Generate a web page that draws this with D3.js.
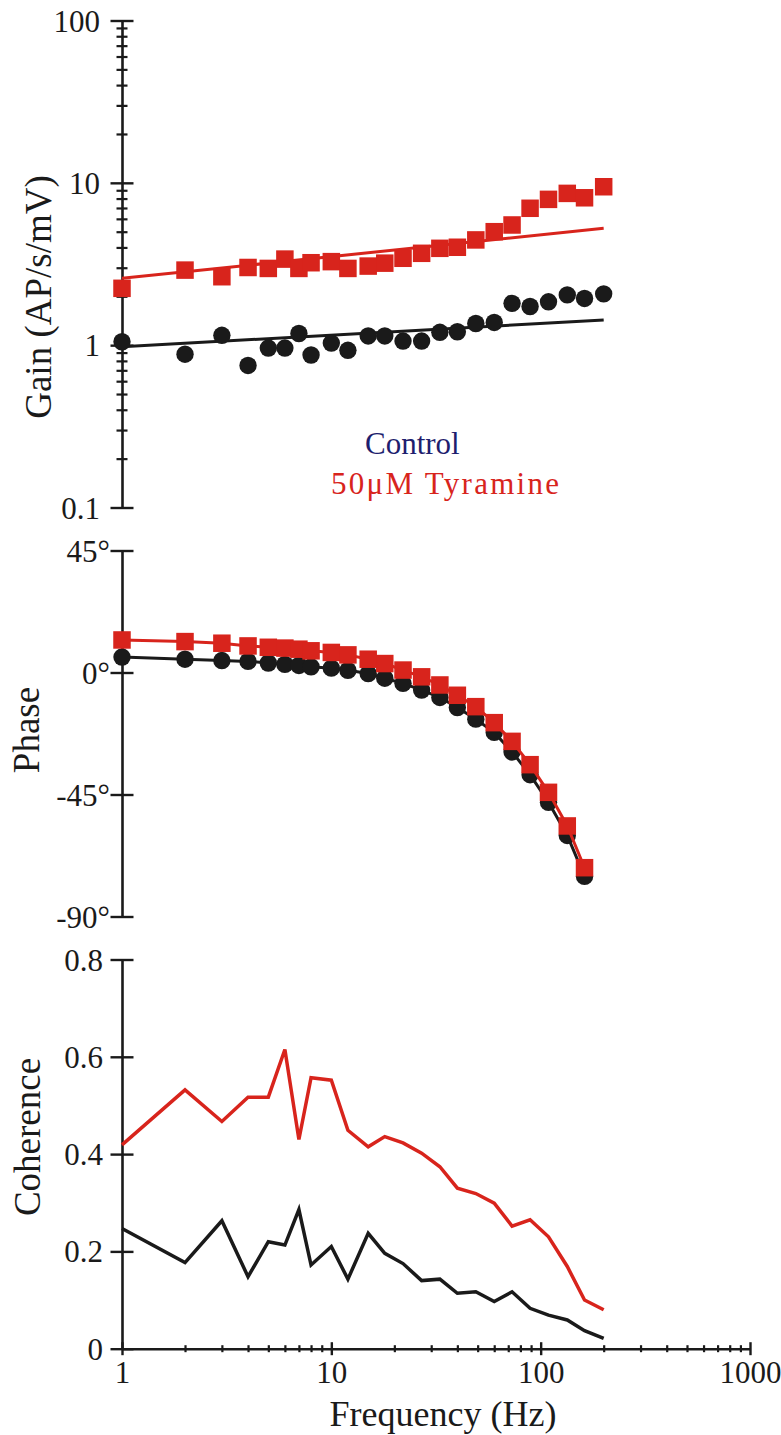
<!DOCTYPE html>
<html>
<head>
<meta charset="utf-8">
<script src="https://cdn.jsdelivr.net/npm/d3@7"></script>
<style>
  html, body { margin: 0; padding: 0; background: #ffffff; }
  svg { display: block; }
  text { font-family: "Liberation Serif", "Times New Roman", serif; }
</style>
</head>
<body>
<svg id="chart" width="781" height="1435"></svg>
<script>
// ---------------- data ----------------
const freqs = [1, 2, 3, 4, 5, 6, 7, 8, 10, 12, 15, 18, 22, 27, 33, 40, 49, 60, 73, 89, 109, 134, 162, 200];

const gainControl   = [1.05, 0.88, 1.15, 0.75, 0.96, 0.96, 1.18, 0.87, 1.03, 0.93, 1.14, 1.14, 1.06, 1.06, 1.20, 1.21, 1.36, 1.38, 1.81, 1.73, 1.85, 2.04, 1.94, 2.07];
const gainTyramine  = [2.24, 2.90, 2.64, 3.01, 2.97, 3.39, 2.97, 3.22, 3.27, 2.97, 3.07, 3.20, 3.43, 3.68, 3.95, 4.01, 4.45, 5.00, 5.50, 6.97, 7.91, 8.61, 8.09, 9.46];
const fitFreqs      = [1, 200];
const fitControl    = [0.977, 1.43];
const fitTyramine   = [2.58, 5.25];

const phaseFreqs    = [1, 2, 3, 4, 5, 6, 7, 8, 10, 12, 15, 18, 22, 27, 33, 40, 49, 60, 73, 89, 109, 134, 162];
const phaseControl  = [5.7, 4.9, 4.4, 4.1, 3.5, 3.0, 2.6, 2.1, 1.6, 0.8, -0.4, -2.1, -4.0, -6.5, -9.2, -12.9, -17.2, -22.1, -29.3, -37.7, -47.9, -60.1, -75.2];
const phaseTyramine = [12.0, 11.4, 10.8, 9.8, 9.3, 9.0, 8.6, 8.0, 7.4, 6.5, 4.9, 3.3, 0.9, -1.6, -4.6, -8.4, -12.6, -18.5, -25.4, -34.0, -44.2, -56.6, -72.0];

const cohControl    = [0.247, 0.177, 0.263, 0.148, 0.220, 0.213, 0.286, 0.172, 0.210, 0.143, 0.237, 0.196, 0.175, 0.140, 0.143, 0.114, 0.117, 0.097, 0.117, 0.083, 0.069, 0.059, 0.037, 0.021];
const cohTyramine   = [0.419, 0.532, 0.467, 0.517, 0.517, 0.615, 0.430, 0.557, 0.552, 0.449, 0.415, 0.436, 0.423, 0.402, 0.374, 0.330, 0.319, 0.299, 0.252, 0.265, 0.230, 0.169, 0.100, 0.080];

const gainTicks   = [0.1, 1, 10, 100];
const gainMinor   = [0.2,0.3,0.4,0.5,0.6,0.7,0.8,0.9, 2,3,4,5,6,7,8,9, 20,30,40,50,60,70,80,90];
const phaseTicks  = [45, 0, -45, -90];
const cohTicks    = [0, 0.2, 0.4, 0.6, 0.8];
const freqTicks   = [1, 10, 100, 1000];
const freqMinor   = [2,3,4,5,6,7,8,9, 20,30,40,50,60,70,80,90, 200,300,400,500,600,700,800,900];

const legendLabels = ["Control", "50\u03BCM Tyramine"];

// ---------------- styles ----------------
const RED = "#d8241c", BLACK = "#1a1a1a", NAVY = "#1e1e6e";

const svg = d3.select("#chart");

// scales
const x = d3.scaleLog().domain([1, 1000]).range([122, 750]);
const yGain = d3.scaleLog().domain([0.1, 100]).range([507.5, 20.5]);
const yPhase = d3.scaleLinear().domain([-90, 45]).range([916.5, 550.5]);
const yCoh = d3.scaleLinear().domain([0, 0.8]).range([1348.7, 959.5]);
const AX = 122;

function leftAxis(y, ticks, fmt, minor, labelX) {
  const g = svg.append("g").attr("transform", `translate(${AX},0)`);
  g.call(d3.axisLeft(y).tickValues(ticks).tickSizeOuter(0).tickSize(0).tickFormat(fmt));
  g.select(".domain").attr("stroke", BLACK).attr("stroke-width", 2.6);
  g.selectAll(".tick line").attr("x1", -11.5).attr("x2", 11.5).attr("stroke", BLACK).attr("stroke-width", 2.4);
  g.selectAll(".tick text").attr("x", labelX).attr("dy", "0.34em")
    .attr("font-size", 31).attr("font-family", "Liberation Serif").attr("fill", BLACK);
  if (minor) {
    const m = svg.append("g").attr("transform", `translate(${AX},0)`);
    m.call(d3.axisLeft(y).tickValues(minor).tickSize(0).tickFormat(""));
    m.select(".domain").remove();
    m.selectAll(".tick line").attr("x1", -5.5).attr("x2", 5.5).attr("stroke", BLACK).attr("stroke-width", 2.2);
  }
  return g;
}

// ---------------- Gain panel ----------------
leftAxis(yGain, gainTicks, d => (d < 1 ? d3.format(".1f")(d) : d3.format("d")(d)), gainMinor, -22);

const lineGain = (vals, fs) => d3.line().x((d, i) => x(fs[i])).y(d => yGain(d))(vals);

svg.append("path").attr("d", lineGain(fitControl, fitFreqs))
  .attr("fill", "none").attr("stroke", BLACK).attr("stroke-width", 3);
svg.append("g").selectAll("circle").data(gainControl).join("circle")
  .attr("cx", (d, i) => x(freqs[i])).attr("cy", d => yGain(d)).attr("r", 8.7).attr("fill", BLACK);

svg.append("path").attr("d", lineGain(fitTyramine, fitFreqs))
  .attr("fill", "none").attr("stroke", RED).attr("stroke-width", 3);
const SQ = 17.5;
svg.append("g").selectAll("rect").data(gainTyramine).join("rect")
  .attr("x", (d, i) => x(freqs[i]) - SQ / 2).attr("y", d => yGain(d) - SQ / 2)
  .attr("width", SQ).attr("height", SQ).attr("fill", RED);

svg.append("text").attr("transform", "translate(51,297) rotate(-90)")
  .attr("text-anchor", "middle").attr("font-size", 37).attr("fill", BLACK)
  .text("Gain (AP/s/mV)");

// legend
svg.append("text").attr("x", 365).attr("y", 454).attr("font-size", 31).attr("fill", NAVY).text(legendLabels[0]);
svg.append("text").attr("x", 331).attr("y", 494).attr("font-size", 31).attr("fill", RED)
  .attr("textLength", 228).attr("lengthAdjust", "spacing").text(legendLabels[1]);

// ---------------- Phase panel ----------------
leftAxis(yPhase, phaseTicks, d => d + "\u00B0", null, -12);

const linePhase = (vals) => d3.line().x((d, i) => x(phaseFreqs[i])).y(d => yPhase(d))(vals);
svg.append("path").attr("d", linePhase(phaseControl))
  .attr("fill", "none").attr("stroke", BLACK).attr("stroke-width", 3);
svg.append("g").selectAll("circle").data(phaseControl).join("circle")
  .attr("cx", (d, i) => x(phaseFreqs[i])).attr("cy", d => yPhase(d)).attr("r", 8.7).attr("fill", BLACK);
svg.append("path").attr("d", linePhase(phaseTyramine))
  .attr("fill", "none").attr("stroke", RED).attr("stroke-width", 3);
svg.append("g").selectAll("rect").data(phaseTyramine).join("rect")
  .attr("x", (d, i) => x(phaseFreqs[i]) - SQ / 2).attr("y", d => yPhase(d) - SQ / 2)
  .attr("width", SQ).attr("height", SQ).attr("fill", RED);

svg.append("text").attr("transform", "translate(39,730) rotate(-90)")
  .attr("text-anchor", "middle").attr("font-size", 37).attr("fill", BLACK)
  .text("Phase");

// ---------------- Coherence panel ----------------
leftAxis(yCoh, cohTicks, d => (d === 0 ? "0" : d3.format(".1f")(d)), null, -19);

const xg = svg.append("g").attr("transform", `translate(0,${yCoh(0)})`);
xg.call(d3.axisBottom(x).tickValues(freqTicks).tickSizeOuter(0).tickSize(0).tickFormat(d3.format("d")));
xg.select(".domain").attr("stroke", BLACK).attr("stroke-width", 2.6);
xg.selectAll(".tick line").attr("y1", -6.5).attr("y2", 6.5).attr("stroke", BLACK).attr("stroke-width", 2.4);
xg.selectAll(".tick text").attr("y", 34).attr("dy", 0)
  .attr("font-size", 31).attr("font-family", "Liberation Serif").attr("fill", BLACK);
const xm = svg.append("g").attr("transform", `translate(0,${yCoh(0)})`);
xm.call(d3.axisBottom(x).tickValues(freqMinor).tickSize(0).tickFormat(""));
xm.select(".domain").remove();
xm.selectAll(".tick line").attr("y1", -3.5).attr("y2", 3.5).attr("stroke", BLACK).attr("stroke-width", 2.2);

const lineCoh = (vals) => d3.line().x((d, i) => x(freqs[i])).y(d => yCoh(d))(vals);
svg.append("path").attr("d", lineCoh(cohTyramine))
  .attr("fill", "none").attr("stroke", RED).attr("stroke-width", 3.5).attr("stroke-linejoin", "miter");
svg.append("path").attr("d", lineCoh(cohControl))
  .attr("fill", "none").attr("stroke", BLACK).attr("stroke-width", 3.5).attr("stroke-linejoin", "miter");

svg.append("text").attr("transform", "translate(40,1137) rotate(-90)")
  .attr("text-anchor", "middle").attr("font-size", 37).attr("fill", BLACK)
  .text("Coherence");

svg.append("text").attr("x", 443).attr("y", 1426)
  .attr("text-anchor", "middle").attr("font-size", 36).attr("fill", BLACK)
  .text("Frequency (Hz)");
</script>
</body>
</html>
